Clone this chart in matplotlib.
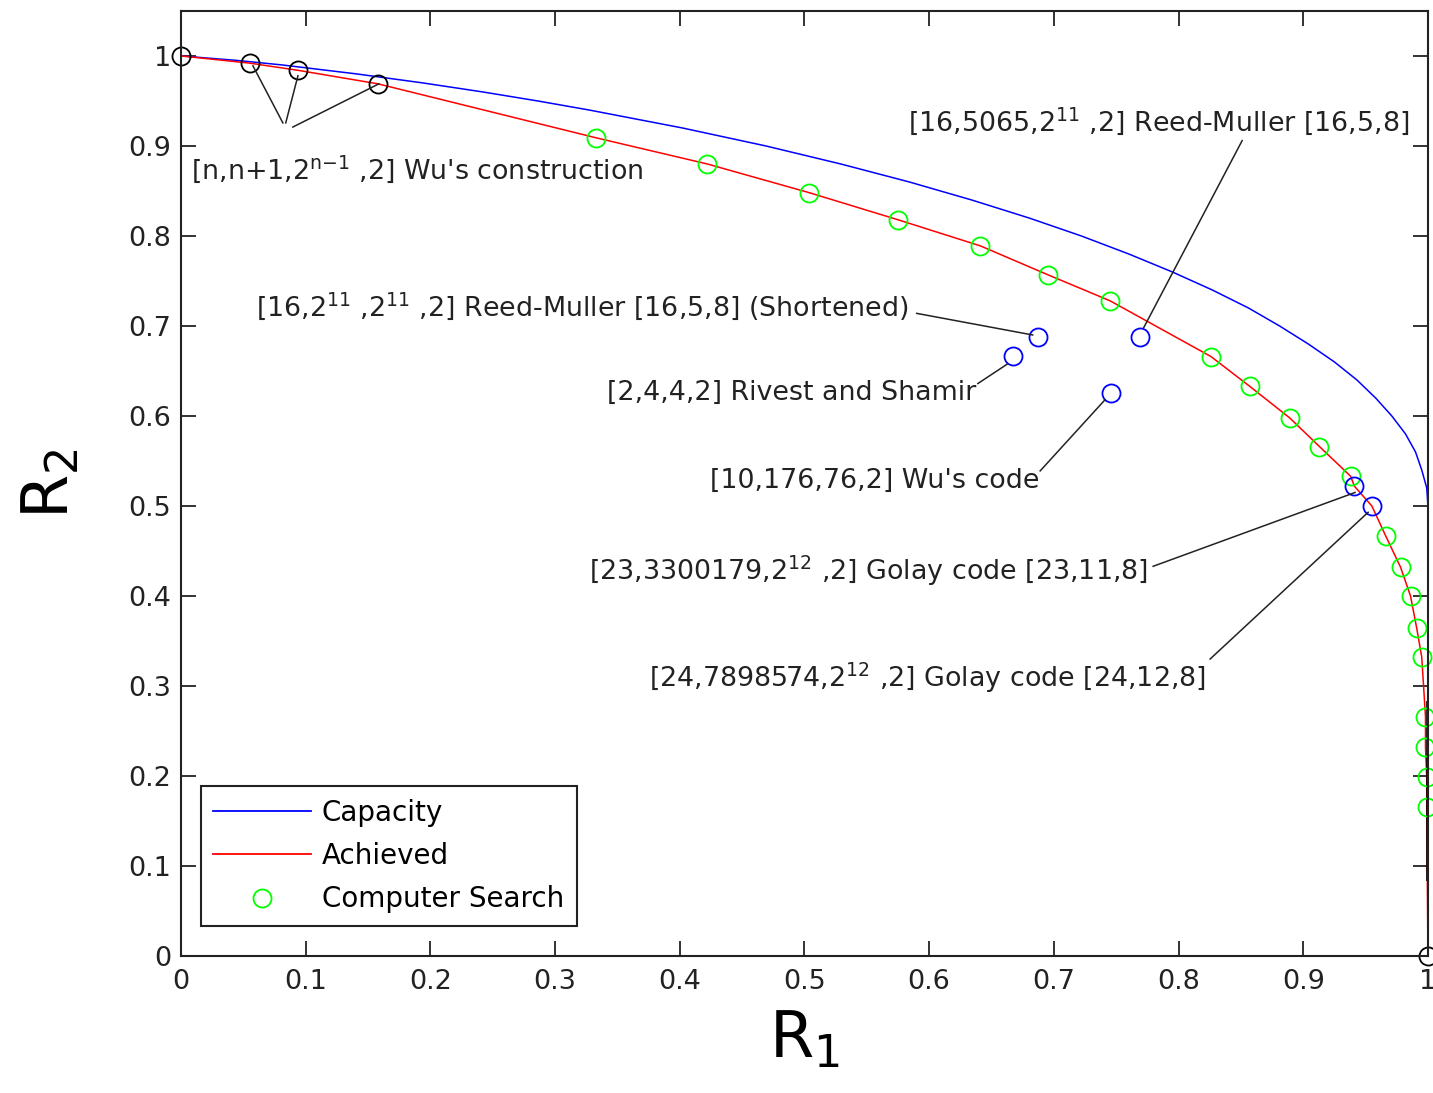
#!/usr/bin/env python3
"""WOM-code rate region: capacity, achieved curve and known constructions."""

import matplotlib

matplotlib.use("Agg")
import matplotlib.pyplot as plt
from matplotlib.lines import Line2D

plt.rcParams["font.family"] = ["DejaVu Sans"]
plt.rcParams["mathtext.fontset"] = "custom"
plt.rcParams["mathtext.rm"] = "DejaVu Sans"
plt.rcParams["mathtext.it"] = "DejaVu Sans"
plt.rcParams["mathtext.bf"] = "DejaVu Sans"

# capacity curve (R1, R2)
cap_r1 = [0.0, 0.045, 0.081, 0.141, 0.194, 0.242, 0.286, 0.327, 0.402, 0.469,
          0.529, 0.584, 0.634, 0.680, 0.722, 0.760, 0.795, 0.827, 0.856, 0.881,
          0.904, 0.925, 0.943, 0.958, 0.971, 0.982, 0.990, 0.995, 0.999, 1.0]
cap_r2 = [1.0, 0.995, 0.99, 0.98, 0.97, 0.96, 0.95, 0.94, 0.92, 0.90,
          0.88, 0.86, 0.84, 0.82, 0.80, 0.78, 0.76, 0.74, 0.72, 0.70,
          0.68, 0.66, 0.64, 0.62, 0.60, 0.58, 0.56, 0.54, 0.52, 0.50]

# computer search points
search_r1 = [0.333, 0.422, 0.504, 0.575, 0.641, 0.695, 0.745, 0.826, 0.857,
             0.889, 0.913, 0.938, 0.966, 0.978, 0.986, 0.991, 0.995, 0.998,
             0.998, 0.999, 0.999]
search_r2 = [0.909, 0.880, 0.848, 0.818, 0.789, 0.757, 0.728, 0.666, 0.633,
             0.598, 0.566, 0.533, 0.467, 0.432, 0.400, 0.364, 0.332, 0.266,
             0.232, 0.199, 0.166]

# Wu's construction [n,n+1,2^(n-1),2] plus the trivial corner points
wu_r1 = [0.0, 0.055, 0.094, 0.158, 1.0]
wu_r2 = [1.0, 0.992, 0.984, 0.969, 0.0]

# achieved curve
ach_r1 = [0.0, 0.055, 0.094, 0.158, 0.333, 0.422, 0.504, 0.575, 0.641, 0.695,
          0.745, 0.826, 0.857, 0.889, 0.913, 0.938, 0.941, 0.955, 0.966, 0.978,
          0.986, 0.991, 0.995, 0.998, 0.998, 0.999, 0.999, 1.0]
ach_r2 = [1.0, 0.992, 0.984, 0.969, 0.909, 0.880, 0.848, 0.818, 0.789, 0.757,
          0.728, 0.666, 0.633, 0.598, 0.566, 0.533, 0.522, 0.500, 0.467, 0.432,
          0.400, 0.364, 0.332, 0.266, 0.232, 0.199, 0.166, 0.0]

# named codes (blue circles)
code_r1 = [0.6875, 0.667, 0.746, 0.769, 0.941, 0.955]
code_r2 = [0.6875, 0.667, 0.625, 0.6875, 0.522, 0.500]

# annotations: text, text anchor, line segments
labels = [
    ("[n,n+1,2$^{\\mathrm{n{-}1}}$ ,2] Wu's construction", (0.008, 0.874),
     [((0.0817, 0.9256), (0.0577, 0.989)),
      ((0.0840, 0.9256), (0.0938, 0.978)),
      ((0.0897, 0.921), (0.1587, 0.969))]),
    ("[16,5065,2$^{11}$ ,2] Reed-Muller [16,5,8]", (0.583, 0.928),
     [((0.851, 0.906), (0.772, 0.698))]),
    ("[16,2$^{11}$ ,2$^{11}$ ,2] Reed-Muller [16,5,8] (Shortened)", (0.060, 0.722),
     [((0.590, 0.714), (0.683, 0.690))]),
    ("[2,4,4,2] Rivest and Shamir", (0.342, 0.626),
     [((0.639, 0.636), (0.663, 0.658))]),
    ("[10,176,76,2] Wu's code", (0.424, 0.528),
     [((0.689, 0.539), (0.741, 0.618))]),
    ("[23,3300179,2$^{12}$ ,2] Golay code [23,11,8]", (0.327, 0.428),
     [((0.7796, 0.433), (0.9415, 0.515))]),
    ("[24,7898574,2$^{12}$ ,2] Golay code [24,12,8]", (0.375, 0.309),
     [((0.8253, 0.330), (0.952, 0.493))]),
]

fig = plt.figure(figsize=(14.33, 10.93), dpi=100)
ax = fig.add_axes([0.1263, 0.1253, 0.8702, 0.8647])

ax.plot(cap_r1, cap_r2, color="#0000ff", lw=1.1, label="Capacity")
ax.plot(ach_r1, ach_r2, color="#ff0000", lw=1.1, label="Achieved")
ax.plot([1.0, 1.0], [0.083, 0.283], color="black", lw=2.6, solid_capstyle="butt")
ax.plot(search_r1, search_r2, "o", mfc="none", mec="#00ff00", ms=13, mew=1.3,
        clip_on=False)
ax.plot(wu_r1, wu_r2, "o", mfc="none", mec="black", ms=13, mew=1.3, clip_on=False)
ax.plot(code_r1, code_r2, "o", mfc="none", mec="#0000ff", ms=13, mew=1.3,
        clip_on=False)

for text, (tx, ty), segs in labels:
    ax.text(tx, ty, text, fontsize=19.4, color="#222222", ha="left", va="center")
    for (x0, y0), (x1, y1) in segs:
        ax.plot([x0, x1], [y0, y1], color="#222222", lw=1.1)

ax.set_xlim(0, 1)
ax.set_ylim(0, 1.05)
ax.set_xticks([i / 10 for i in range(11)])
ax.set_yticks([i / 10 for i in range(11)])
ax.set_xticklabels(["0", "0.1", "0.2", "0.3", "0.4", "0.5", "0.6", "0.7", "0.8", "0.9", "1"])
ax.set_yticklabels(["0", "0.1", "0.2", "0.3", "0.4", "0.5", "0.6", "0.7", "0.8", "0.9", "1"])
ax.tick_params(direction="in", length=11, width=1.3, top=True, right=True,
               labelsize=19.5, colors="#222222", pad=9)
ax.tick_params(axis="y", pad=7)
for sp in ax.spines.values():
    sp.set_linewidth(1.5)
    sp.set_color("#222222")

ax.set_xlabel("R$_1$", fontsize=46, labelpad=10, color="black")
ax.set_ylabel("R$_2$", fontsize=46, labelpad=34, color="black")

handles = [
    Line2D([], [], color="#0000ff", lw=1.3),
    Line2D([], [], color="#ff0000", lw=1.3),
    Line2D([], [], ls="none", marker="o", mfc="none", mec="#00ff00", ms=13, mew=1.3),
]
leg = ax.legend(handles, ["Capacity", "Achieved", "Computer Search"],
                loc="lower left", bbox_to_anchor=(0.016, 0.032), borderaxespad=0,
                fontsize=20, fancybox=False, framealpha=1, edgecolor="#222222",
                handlelength=3.5, labelspacing=0.55, borderpad=0.45,
                handletextpad=0.4)
leg.get_frame().set_linewidth(1.5)

fig.savefig("out.png", dpi=100)
